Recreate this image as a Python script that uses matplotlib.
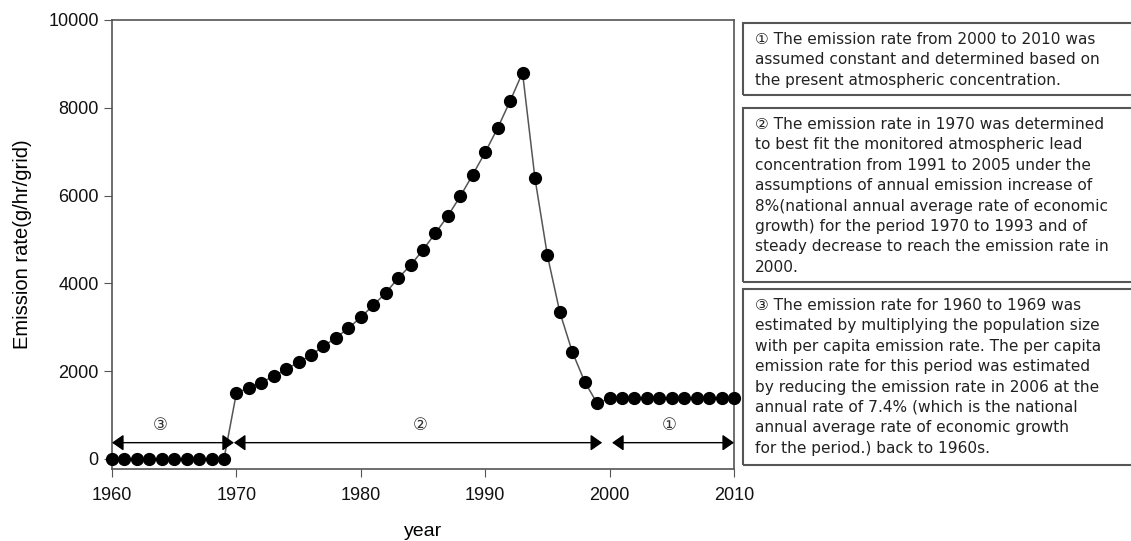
import matplotlib
matplotlib.use('Agg')
import matplotlib.pyplot as plt
from matplotlib.patches import Rectangle

# datos
years = list(range(1960, 2011))
rate = ([0] * 10 +
        [1500, 1620, 1740, 1886, 2040, 2205, 2364, 2568, 2760, 2977,
         3227, 3500, 3780, 4120, 4409, 4765, 5143, 5538, 5984, 6477,
         6985, 7538, 8152, 8802, 6393, 4636, 3340, 2440, 1758, 1265] +
        [1380] * 11)

periods = [(1960, 1969.8, '③'), (1969.8, 1999.4, '②'), (2000.2, 2010, '①')]
period_label_x = [1963.9, 1984.8, 2004.8]

notes = [
    '① The emission rate from 2000 to 2010 was\n'
    'assumed constant and determined based on\n'
    'the present atmospheric concentration.',
    '② The emission rate in 1970 was determined\n'
    'to best fit the monitored atmospheric lead\n'
    'concentration from 1991 to 2005 under the\n'
    'assumptions of annual emission increase of\n'
    '8%(national annual average rate of economic\n'
    'growth) for the period 1970 to 1993 and of\n'
    'steady decrease to reach the emission rate in\n'
    '2000.',
    '③ The emission rate for 1960 to 1969 was\n'
    'estimated by multiplying the population size\n'
    'with per capita emission rate. The per capita\n'
    'emission rate for this period was estimated\n'
    'by reducing the emission rate in 2006 at the\n'
    'annual rate of 7.4% (which is the national\n'
    'annual average rate of economic growth\n'
    'for the period.) back to 1960s.',
]
# cajas en pixeles (top, bottom)
note_boxes = [(23, 95), (108, 282), (289, 465)]

W, H = 1131, 541
fig = plt.figure(figsize=(W / 100, H / 100), dpi=100)
ax = fig.add_axes([112 / W, 1 - 469 / H, (734 - 112) / W, (469 - 20) / H])

ax.plot(years, rate, color='#555555', lw=1.1, marker='o', markersize=8.5,
        markerfacecolor='black', markeredgecolor='black', clip_on=False, zorder=3)

arrow_y = 370
for (x0, x1, lab), lx in zip(periods, period_label_x):
    ax.annotate('', xy=(x1, arrow_y), xytext=(x0, arrow_y),
                arrowprops=dict(arrowstyle='<|-|>,head_length=0.5,head_width=0.35',
                                color='black', lw=1, shrinkA=0, shrinkB=0,
                                mutation_scale=14))
    ax.text(lx, 770, lab, ha='center', va='center', fontsize=12, color='#333333',
            family=['DejaVu Sans', 'Noto Sans CJK KR'])

ax.set_xlim(1960, 2010)
ax.set_ylim(-230, 10000)
ax.set_xticks(range(1960, 2011, 10))
ax.set_yticks(range(0, 10001, 2000))
for s in ax.spines.values():
    s.set_color('#555555')
    s.set_linewidth(1.2)
ax.tick_params(direction='out', length=6, color='#555555', labelsize=13,
               labelcolor='#111111')
ax.tick_params(axis='x', pad=7)
for lbl in ax.get_xticklabels() + ax.get_yticklabels():
    lbl.set_family('Liberation Sans')
ax.set_xlabel('year', fontsize=14, family='Liberation Sans', labelpad=14)
ax.set_ylabel('Emission rate(g/hr/grid)', fontsize=14.5, family='Liberation Sans',
              labelpad=12)

for txt, (top, bot) in zip(notes, note_boxes):
    fig.patches.append(Rectangle((743 / W, 1 - bot / H), (W - 743 + 10) / W,
                                 (bot - top) / H, transform=fig.transFigure,
                                 fill=False, edgecolor='#555555', lw=1.5))
    fig.text(755 / W, 1 - (top + 9) / H, txt, ha='left', va='top',
             fontsize=11.1, color='#222222', linespacing=1.45,
             family=['DejaVu Sans', 'Noto Sans CJK KR'])

plt.savefig('out.png', dpi=100)
plt.close()
